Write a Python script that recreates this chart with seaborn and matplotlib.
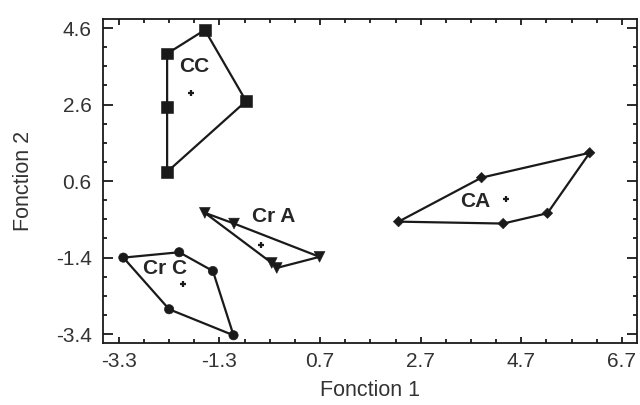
import numpy as np
import pandas as pd
import matplotlib.pyplot as plt
import seaborn as sns
from matplotlib.ticker import FixedLocator

# group points (Fonction 1, Fonction 2), in hull order
cc_x = [-2.34, -1.59, -0.77, -2.34, -2.34]
cc_y = [3.93, 4.55, 2.69, 0.84, 2.54]
cra_x = [-1.59, -1.01, 0.69, -0.16, -0.26]
cra_y = [-0.23, -0.51, -1.38, -1.67, -1.54]
crc_x = [-3.21, -2.10, -1.43, -1.02, -2.30]
crc_y = [-1.40, -1.26, -1.75, -3.43, -2.75]
ca_x = [2.26, 3.91, 6.06, 5.22, 4.34]
ca_y = [-0.46, 0.69, 1.34, -0.24, -0.51]

groups = ["CC", "Cr A", "Cr C", "CA"]
centroid_x = [-1.87, -0.47, -2.03, 4.39]
centroid_y = [2.91, -1.08, -2.10, 0.14]
label_x = [-1.81, -0.23, -2.38, 3.79]
label_y = [3.60, -0.32, -1.68, 0.06]

xticks = [-3.3, -1.3, 0.7, 2.7, 4.7, 6.7]
yticks = [-3.4, -1.4, 0.6, 2.6, 4.6]

sns.set_style("ticks")
plt.rcParams['font.family'] = ['Liberation Sans', 'DejaVu Sans']

pts = pd.DataFrame({
    "x": cc_x + cra_x + crc_x + ca_x,
    "y": cc_y + cra_y + crc_y + ca_y,
    "group": sum([[g] * 5 for g in groups], []),
})

fig = plt.figure(figsize=(6.4, 4.05), dpi=100)
ax = fig.add_axes([0.1605, 0.1523, 0.8348, 0.8007])

# hull outlines
for xs, ys in [(cc_x, cc_y), (cra_x, cra_y), (crc_x, crc_y), (ca_x, ca_y)]:
    ax.plot(xs + xs[:1], ys + ys[:1], color="#1a1a1a", lw=1.6, zorder=2)

markers = {"CC": "s", "Cr A": "v", "Cr C": "o", "CA": "D"}
sizes = {"CC": 70, "Cr A": 60, "Cr C": 45, "CA": 28}
sns.scatterplot(data=pts, x="x", y="y", style="group", markers=markers,
                size="group", sizes=sizes, color="#1a1a1a", edgecolor="#1a1a1a",
                legend=False, ax=ax, zorder=3)

ax.scatter(centroid_x, centroid_y, marker="+", s=25, color="#1a1a1a", lw=1.6, zorder=3)
for g, lx, ly in zip(groups, label_x, label_y):
    ax.text(lx, ly, g, fontsize=15, fontweight="bold", color="#262626",
            ha="center", va="center")

ax.set_xlim(-3.62, 7.0)
ax.set_ylim(-3.64, 4.835)
ax.xaxis.set_major_locator(FixedLocator(xticks))
ax.yaxis.set_major_locator(FixedLocator(yticks))
ax.xaxis.set_minor_locator(FixedLocator(np.arange(-3.3, 7.0, 0.5)))
ax.yaxis.set_minor_locator(FixedLocator(np.arange(-3.4, 4.8, 0.5)))
ax.set_xticklabels([f"{v:.1f}" for v in xticks])
ax.set_yticklabels([f"{v:.1f}" for v in yticks])
ax.tick_params(which="both", direction="in", top=True, right=True, width=1.3,
               labelsize=15, colors="#1a1a1a", labelcolor="#333333")
ax.tick_params(axis="x", which="major", length=4.5, pad=6)
ax.tick_params(axis="y", which="major", length=7.5, pad=8)
ax.tick_params(which="minor", length=3)
for s in ax.spines.values():
    s.set_linewidth(1.3)
    s.set_color("#1a1a1a")

ax.set_xlabel("Fonction 1", fontsize=15.5, color="#333333", labelpad=7)
ax.set_ylabel("Fonction 2", fontsize=15.5, color="#333333", labelpad=16)

fig.savefig("out.png", dpi=100)
